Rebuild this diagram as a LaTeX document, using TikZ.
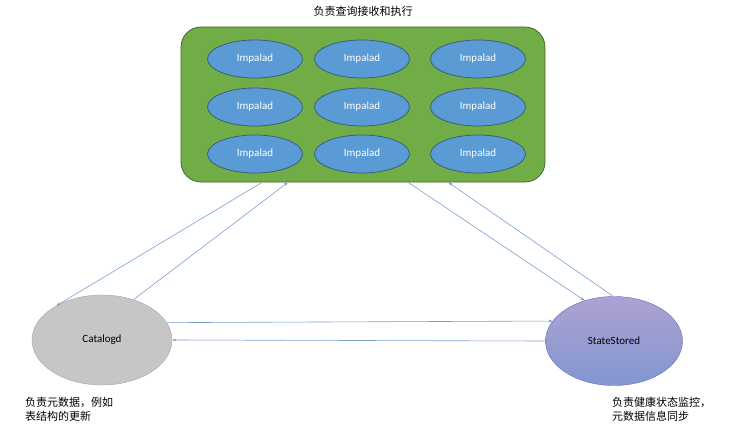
\documentclass[tikz,border=0pt]{standalone}
\usepackage{fontspec}
\setmainfont{Carlito}
\newfontfamily\cjk{Noto Sans CJK SC}
\usetikzlibrary{shapes.geometric,calc,arrows.meta}
\definecolor{boxgreen}{RGB}{112,173,71}
\definecolor{impblue}{RGB}{91,155,213}
\definecolor{linkblue}{RGB}{120,160,210}
\tikzset{
  impalad/.style={ellipse, draw=impblue!60!black, fill=impblue, line width=0.8pt,
    minimum width=95pt, minimum height=38pt, inner sep=0pt, text=white, font=\fontsize{11pt}{12pt}\selectfont},
  link/.style={draw=linkblue, line width=0.6pt, -{Stealth[length=4pt,width=3pt]}},
  note/.style={font=\cjk\fontsize{11pt}{14pt}\selectfont, align=left, anchor=north west, inner sep=0pt}
}
\begin{document}
\begin{tikzpicture}[x=1pt,y=-1pt]
    \useasboundingbox (0,0) rectangle (749,444);

    % Impalad pool
    \node[rectangle, rounded corners=20pt, draw=boxgreen!60!black, fill=boxgreen, line width=0.8pt,
          minimum width=364pt, minimum height=155pt] (pool) at (363,104.5) {};
    \node[font=\cjk\fontsize{11pt}{12pt}\selectfont] (pooltitle) at (363,11) {负责查询接收和执行};
    \foreach \x [count=\i] in {255,362,478} {
        \foreach \y [count=\j] in {59,107,154} {
            \node[impalad] (imp\i\j) at (\x,\y) {Impalad};
        }
    }

    % Catalogd and StateStored
    \node[ellipse, draw=gray!70, fill=gray!45, minimum width=140pt, minimum height=90pt,
          font=\fontsize{11pt}{12pt}\selectfont] (cat) at (102,340) {Catalogd};
    \node[ellipse, draw=impblue!70!violet, top color=impblue!55!violet!55, bottom color=impblue!80!violet!80,
          minimum width=137pt, minimum height=89pt, font=\fontsize{11pt}{12pt}\selectfont] (state) at (614,341) {StateStored};

    \node[note] (catnote) at (25,397) {负责元数据，例如\\表结构的更新};
    \node[note] (statenote) at (612,397) {负责健康状态监控，\\元数据信息同步};

    % links
    \coordinate (p1) at ($(pool.south west)!0.223!(pool.south east)$);
    \coordinate (p2) at ($(pool.south west)!0.294!(pool.south east)$);
    \coordinate (p3) at ($(pool.south west)!0.624!(pool.south east)$);
    \coordinate (p4) at ($(pool.south west)!0.734!(pool.south east)$);
    \draw[link] (p1) -- (cat.143);
    \draw[link] (cat.52) -- (p2);
    \draw[link] (p3) -- (state.126);
    \draw[link] (state.91) -- (p4);
    \draw[link] (cat.15) -- (state.162);
    \draw[link] (state.180) -- (cat.0);
\end{tikzpicture}
\end{document}
